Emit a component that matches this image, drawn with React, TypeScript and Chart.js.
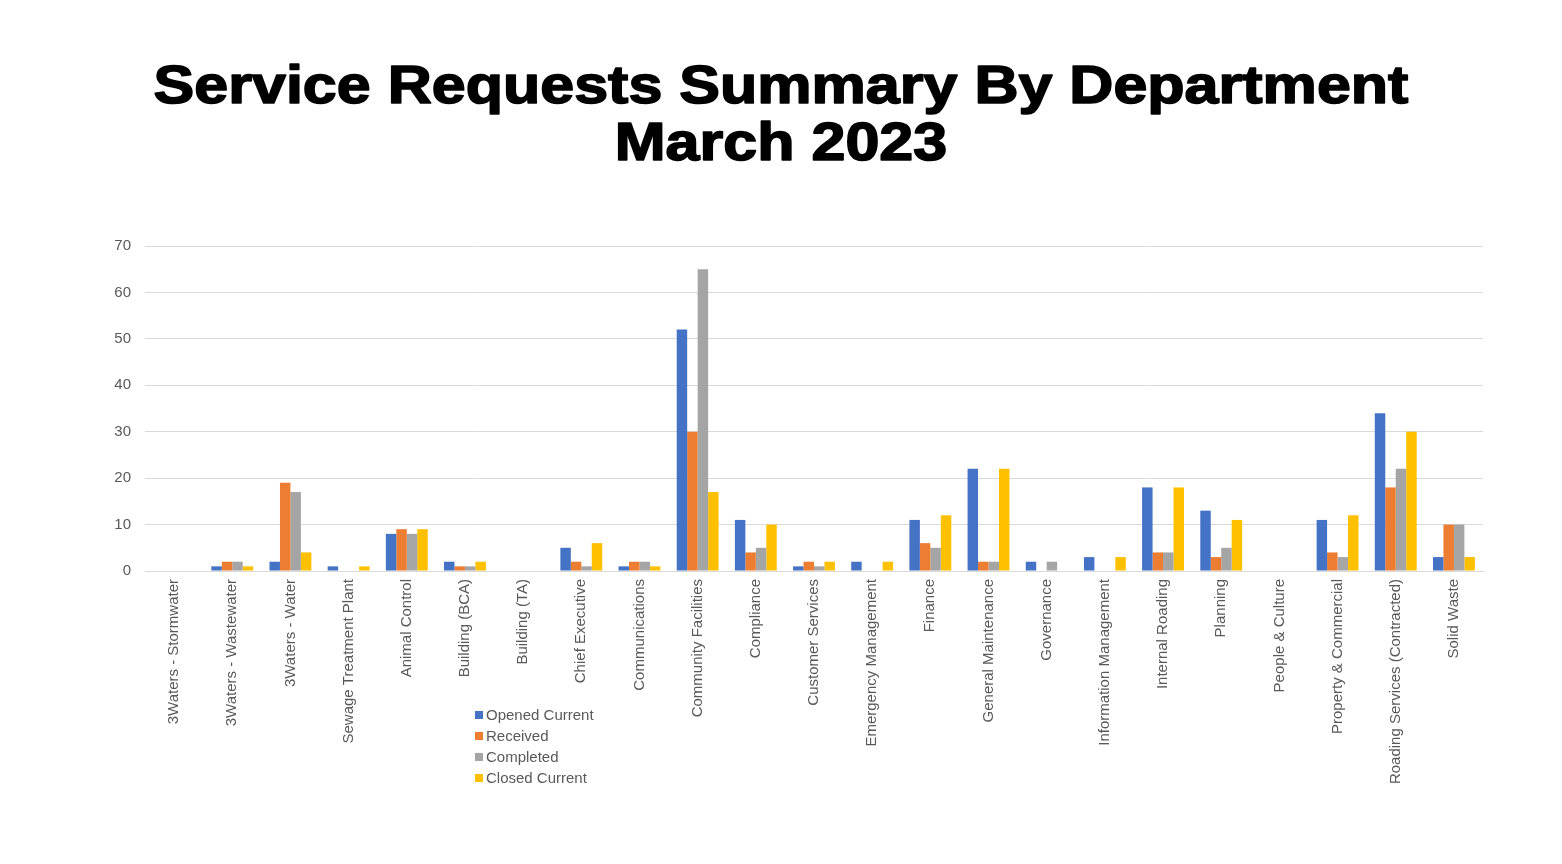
import React, { useEffect, useRef } from "react";
import { Chart, registerables } from "chart.js";

Chart.register(...registerables);

const categories = [
  "3Waters - Stormwater",
  "3Waters - Wastewater",
  "3Waters - Water",
  "Sewage Treatment Plant",
  "Animal Control",
  "Building (BCA)",
  "Building (TA)",
  "Chief Executive",
  "Communications",
  "Community Facilities",
  "Compliance",
  "Customer Services",
  "Emergency Management",
  "Finance",
  "General Maintenance",
  "Governance",
  "Information Management",
  "Internal Roading",
  "Planning",
  "People & Culture",
  "Property & Commercial",
  "Roading Services (Contracted)",
  "Solid Waste",
];

const openedCurrent = [0, 1, 2, 1, 8, 2, 0, 5, 1, 52, 11, 1, 2, 11, 22, 2, 3, 18, 13, 0, 11, 34, 3];
const received = [0, 2, 19, 0, 9, 1, 0, 2, 2, 30, 4, 2, 0, 6, 2, 0, 0, 4, 3, 0, 4, 18, 10];
const completed = [0, 2, 17, 0, 8, 1, 0, 1, 2, 65, 5, 1, 0, 5, 2, 2, 0, 4, 5, 0, 3, 22, 10];
const closedCurrent = [0, 1, 4, 1, 9, 2, 0, 6, 1, 17, 10, 2, 2, 12, 22, 0, 3, 18, 11, 0, 12, 30, 3];

const seriesNames = ["Opened Current", "Received", "Completed", "Closed Current"];
const seriesColors = ["#4472C4", "#ED7D31", "#A5A5A5", "#FFC000"];
const titleLines = ["Service Requests Summary By Department", "March 2023"];
const yTicks = [0, 10, 20, 30, 40, 50, 60, 70];

const FONT = "'Liberation Sans', Arial, sans-serif";

const titlePlugin = {
  id: "customTitle",
  afterDraw(chart: any) {
    const ctx = chart.ctx;
    ctx.save();
    ctx.fillStyle = "#000000";
    ctx.strokeStyle = "#000000";
    ctx.lineWidth = 1.6;
    ctx.lineJoin = "round";
    ctx.font = `bold 54px ${FONT}`;
    ctx.textAlign = "center";
    ctx.textBaseline = "alphabetic";
    const sx = 1.13;
    ctx.translate(781, 0);
    ctx.scale(sx, 1);
    ctx.fillText(titleLines[0], 0, 103);
    ctx.strokeText(titleLines[0], 0, 103);
    ctx.fillText(titleLines[1], 0, 160);
    ctx.strokeText(titleLines[1], 0, 160);
    ctx.restore();
  },
};

const legendPlugin = {
  id: "customLegend",
  afterDraw(chart: any) {
    const ctx = chart.ctx;
    ctx.save();
    ctx.font = `15px ${FONT}`;
    ctx.textBaseline = "middle";
    ctx.textAlign = "left";
    chart.data.datasets.forEach((ds: any, i: number) => {
      const y = 715 + i * 21;
      ctx.fillStyle = ds.backgroundColor;
      ctx.fillRect(475, y - 4, 8, 8);
      ctx.fillStyle = "#595959";
      ctx.fillText(ds.label, 486, y + 1);
    });
    ctx.restore();
  },
};

export default function App() {
  const ref = useRef<HTMLCanvasElement | null>(null);

  useEffect(() => {
    document.body.style.margin = "0";
    const canvas = ref.current;
    if (!canvas) return;
    const seriesData = [openedCurrent, received, completed, closedCurrent];
    const chart = new Chart(canvas, {
      type: "bar",
      data: {
        labels: categories,
        datasets: seriesNames.map((name, i) => ({
          label: name,
          data: seriesData[i],
          backgroundColor: seriesColors[i],
          borderWidth: 0,
          categoryPercentage: 0.72,
          barPercentage: 1.0,
        })),
      },
      options: {
        animation: false,
        responsive: false,
        maintainAspectRatio: false,
        layout: { padding: { left: 100, right: 79, top: 246, bottom: 0 } },
        plugins: {
          legend: { display: false },
          title: { display: false },
          tooltip: { enabled: false },
        },
        scales: {
          x: {
            grid: { display: false, drawTicks: false },
            border: { display: true, color: "#D9D9D9", width: 1 },
            ticks: {
              color: "#595959",
              font: { family: FONT, size: 15 },
              maxRotation: 90,
              minRotation: 90,
              autoSkip: false,
              padding: 8,
            },
            afterFit(scale: any) {
              scale.height = 293;
            },
          },
          y: {
            min: 0,
            max: 70,
            afterBuildTicks(scale: any) {
              scale.ticks = yTicks.map((v) => ({ value: v }));
            },
            grid: { color: "#D9D9D9", drawTicks: false, lineWidth: 1 },
            border: { display: false },
            ticks: {
              color: "#595959",
              font: { family: FONT, size: 15 },
              padding: 14,
            },
            afterFit(scale: any) {
              scale.width = 45;
            },
          },
        },
      },
      plugins: [titlePlugin, legendPlugin],
    });
    return () => chart.destroy();
  }, []);

  return (
    <div style={{ position: "absolute", left: 0, top: 0, width: 1562, height: 864, background: "#ffffff" }}>
      <canvas ref={ref} width={1562} height={864} style={{ width: 1562, height: 864, display: "block" }} />
    </div>
  );
}
